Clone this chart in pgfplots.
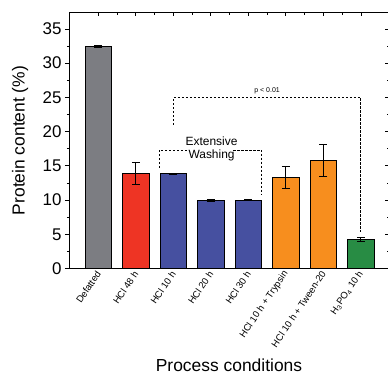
\documentclass[border=0pt]{standalone}
\usepackage{fontspec}
\setmainfont{Liberation Sans}
\usepackage{pgfplots}
\pgfplotsset{compat=1.18}
\usetikzlibrary{calc}

\definecolor{cgray}{RGB}{124,125,130}
\definecolor{cred}{RGB}{238,52,36}
\definecolor{cblue}{RGB}{70,80,160}
\definecolor{corange}{RGB}{247,142,30}
\definecolor{cgreen}{RGB}{40,140,68}
\tikzset{dsh/.style={line width=0.8bp, dash pattern=on 2.2bp off 1.8bp}}

\begin{document}
\begin{tikzpicture}
\pgfplotsset{
 common/.style={
   scale only axis, width=320bp, height=256bp,
   xmin=-0.78, xmax=7.75, ymin=0, ymax=37.4,
   axis line style={line width=0.8bp},
   every tick/.style={black, line width=0.7bp},
   major tick length=4bp, minor tick length=2.2bp,
 },
 bars/.style={ybar, bar shift=0pt, bar width=0.7, draw=black, line width=0.7bp, fill=#1,
   error bars/.cd, y dir=both, y explicit,
   error bar style={line width=0.8bp, black},
   error mark options={rotate=90, mark size=4bp, line width=0.8bp, black}},
}
\begin{axis}[common,
  ytick={0,5,...,35}, minor y tick num=1,
  ytick pos=left, tick align=outside,
  xtick={0,...,7}, xtick pos=bottom, major x tick style={draw=none},
  xticklabels={Defatted, HCl 48 h, HCl 10 h, HCl 20 h, HCl 30 h, HCl 10 h + Trypsin, HCl 10 h + Tween-20, H\textsubscript{3}PO\textsubscript{4} 10 h},
  xticklabel style={rotate=56, anchor=east, font=\fontsize{9.5}{10}\selectfont, inner sep=1bp, xshift=1.5bp},
  yticklabel style={font=\fontsize{17}{20}\selectfont},
  /pgf/number format/assume math mode=true,
  ylabel={Protein content (\%)},
  ylabel style={font=\fontsize{17.5}{20}\selectfont, at={(axis description cs:-0.153,0.5)}, anchor=center},
  xlabel={Process conditions},
  xlabel style={font=\fontsize{17.5}{20}\selectfont, at={(axis description cs:0.5,0)}, anchor=base, yshift=-103bp},
]
\coordinate (bl) at (rel axis cs:0,0);
\addplot[bars=cgray] table[x=x,y=y,y error=e]{
x y e
0 32.5 0.15
};
\addplot[bars=cred] table[x=x,y=y,y error=e]{
x y e
1 13.9 1.6
};
\addplot[bars=cblue] table[x=x,y=y,y error=e]{
x y e
2 13.85 0.1
3 9.95 0.1
4 10.0 0.1
};
\addplot[bars=corange] table[x=x,y=y,y error=e]{
x y e
5 13.25 1.6
6 15.8 2.3
};
\addplot[bars=cgreen] table[x=x,y=y,y error=e]{
x y e
7 4.25 0.25
};
% p < 0.01 bracket
\draw[dsh] (axis cs:2,21) -- (axis cs:2,25) -- (axis cs:7,25) -- (axis cs:7,5.4);
\node[font=\fontsize{7}{8}\selectfont, inner sep=0pt] at (axis cs:4.5,26.0) {p < 0.01};
% Extensive washing bracket
\draw[dsh] (axis cs:1.62,14.7) -- (axis cs:1.62,17.3) -- (axis cs:2.42,17.3);
\draw[dsh] (axis cs:3.6,17.3) -- (axis cs:4.36,17.3) -- (axis cs:4.36,10.9);
\node[font=\fontsize{12}{13}\selectfont, inner sep=0pt] at (axis cs:3.02,18.6) {Extensive};
\node[font=\fontsize{12}{13}\selectfont, inner sep=0pt] at (axis cs:3.02,16.5) {Washing};
\end{axis}
\begin{axis}[common,
  xtick={0,...,7}, minor x tick num=1, xtick pos=right,
  ytick={0,5,...,35}, minor y tick num=1, ytick pos=right,
  tick align=inside, xticklabels={}, yticklabels={},
]
\end{axis}
\pgfresetboundingbox
\path[use as bounding box] ($(bl)+(-69bp,-106.5bp)$) rectangle ($(bl)+(319bp,268.5bp)$);
\end{tikzpicture}
\end{document}
